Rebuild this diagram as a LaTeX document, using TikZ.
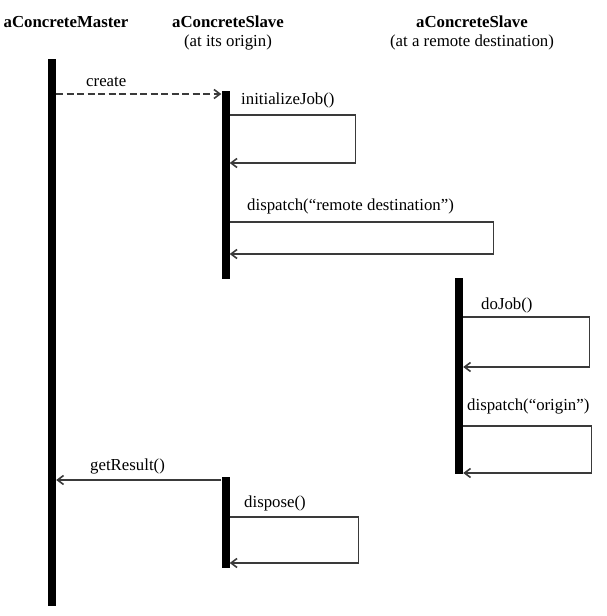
\documentclass[tikz,border=0pt]{standalone}
\usepackage{fontspec}
\setmainfont{Liberation Serif}
\usetikzlibrary{positioning,arrows.meta}
\definecolor{msggray}{HTML}{3A3A3A}

\begin{document}
\begin{tikzpicture}[x=1pt,y=-1pt,
    txt/.style={font=\fontsize{16.8}{20}\selectfont,inner sep=0pt,anchor=base},
    head/.style={txt,font=\fontsize{16.8}{20}\selectfont\bfseries},
    lbl/.style={txt,anchor=base west},
    bar/.style={fill=black,inner sep=0pt,minimum width=8pt,anchor=north},
    msg/.style={draw=msggray,line width=1.3pt,-{Straight Barb[length=6pt,width=9pt,line width=1.6pt]}}]
    \useasboundingbox (0,0) rectangle (607,616);
    % headers
    \node[head] (master) at (66,27) {aConcreteMaster};
    \node[head] (slaveO) at (228,27) {aConcreteSlave};
    \node[txt] (slaveOsub) at (228,46) {(at its origin)};
    \node[head] (slaveR) at (472,27) {aConcreteSlave};
    \node[txt] (slaveRsub) at (472,46) {(at a remote destination)};

    % lifelines / activations
    \node[bar,minimum height=547pt] (lifeM) at (52,59) {};
    \node[bar,minimum height=188pt] (act1) at (225.5,91) {};
    \node[bar,minimum height=196pt] (act2) at (459,278) {};
    \node[bar,minimum height=91pt] (act3) at (225.5,477) {};

    \draw[msg,dash pattern=on 7pt off 3.5pt] (lifeM.east |- 0,94) -- (act1.west |- 0,94);
    \node[lbl] (create) at (86,86) {create};

    \draw[msg] (act1.east |- 0,115) -- ++(126,0) -- ++(0,48) -- (act1.east |- 0,163);
    \node[lbl] (initJob) at (241,104) {initializeJob()};
    \draw[msg] (act1.east |- 0,222) -- ++(264,0) -- ++(0,32) -- (act1.east |- 0,254);
    \node[lbl] (dispRemote) at (247,210) {dispatch(“remote destination”)};

    \draw[msg] (act2.east |- 0,317) -- ++(126,0) -- ++(0,50) -- (act2.east |- 0,367);
    \node[lbl] (doJob) at (481,309) {doJob()};
    \draw[msg] (act2.east |- 0,426) -- ++(128,0) -- ++(0,47) -- (act2.east |- 0,473);
    \node[lbl] (dispOrigin) at (467,410) {dispatch(“origin”)};

    \draw[msg] (act3.west |- 0,480) -- (lifeM.east |- 0,480);
    \node[lbl] (getRes) at (90,470) {getResult()};
    \draw[msg] (act3.east |- 0,517) -- ++(129,0) -- ++(0,46) -- (act3.east |- 0,563);
    \node[lbl] (dispose) at (244,507) {dispose()};
\end{tikzpicture}
\end{document}
